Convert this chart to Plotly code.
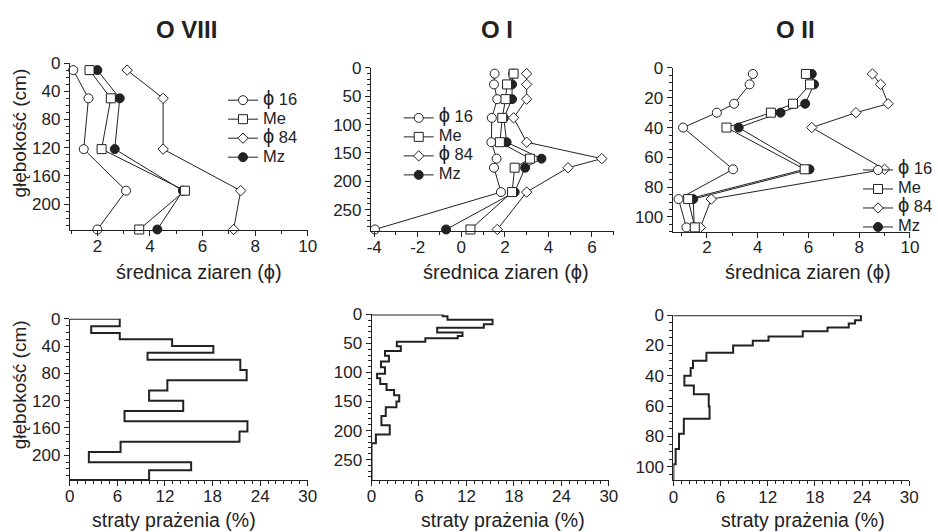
import plotly.graph_objects as go

W, H = 938, 532
FONT = "Liberation Sans, Arial, sans-serif"
INK = "#222222"

# ---------------- grain-size data (depth cm, phi) ----------------
depth_viii = [10, 50, 122, 181, 236]
phi16_viii = [1.08, 1.66, 1.48, 3.09, 2.0]
me_viii = [1.70, 2.51, 2.16, 5.33, 3.59]
phi84_viii = [3.13, 4.5, 4.5, 7.45, 7.18]
mz_viii = [2.0, 2.85, 2.66, 5.25, 4.28]

depth_i = [10, 29, 55, 88, 131, 160, 176, 219, 285]
phi16_i = [1.53, 1.50, 1.65, 1.40, 1.38, 1.62, 1.50, 1.82, -3.97]
me_i = [2.40, 2.10, 2.03, 1.88, 1.77, 3.15, 2.45, 2.33, 0.42]
phi84_i = [3.0, 3.0, 3.0, 2.4, 3.0, 6.45, 4.9, 3.0, 1.65]
mz_i = [2.38, 2.33, 2.33, 1.95, 2.08, 3.68, 2.93, 2.45, -0.70]

depth_ii = [4, 11, 24, 30, 40, 68, 88, 107]
phi16_ii = [3.81, 3.68, 3.07, 2.39, 1.06, 3.03, 0.88, 1.19]
me_ii = [5.90, 6.06, 5.39, 4.52, 2.77, 5.85, 1.26, 1.52]
phi84_ii = [8.52, 8.84, 9.14, 7.87, 6.13, 9.0, 2.17, 1.74]
mz_ii = [6.13, 6.22, 5.87, 4.90, 3.25, 6.04, 1.46, 1.50]

# ---------------- loss on ignition (layer top depth cm, %) ----------------
tops_viii = [0, 11, 21, 30, 40, 50, 60, 75, 90, 105, 120, 135, 150, 165, 180, 195, 210, 222]
loi_viii = [6.3, 2.7, 6.3, 12.9, 18.1, 9.8, 21.5, 22.3, 12.3, 10.0, 14.3, 6.9, 22.4, 21.4, 6.4, 2.4, 15.3, 10.0]
bottom_viii = 236

tops_i = [0, 3, 9, 17, 23, 31, 37, 41, 47, 55, 63, 71, 81, 91, 102, 110, 120, 130, 139, 150, 160, 175, 191, 207, 222]
loi_i = [9.0, 9.6, 15.3, 14.2, 8.3, 11.5, 10.9, 6.8, 3.2, 3.7, 1.7, 2.2, 1.2, 1.7, 0.7, 1.1, 1.9, 2.85, 3.5, 3.15, 1.8, 1.25, 2.3, 0.55, 0.0]
bottom_i = 285

tops_ii = [0, 3.3, 5.5, 8.1, 10.6, 14.1, 16.9, 20.0, 24.8, 30.0, 34.8, 39.9, 46.3, 52.2, 60.3, 68.3, 78.2, 88.3, 98.3]
loi_ii = [23.85, 23.1, 22.3, 19.6, 16.45, 12.1, 10.1, 7.6, 4.2, 2.5, 2.2, 1.4, 2.6, 4.5, 4.6, 1.33, 0.72, 0.29, 0.0]
bottom_ii = 109

titles = ["O VIII", "O I", "O II"]
PHI = "<span style='font-size:20px'>ϕ</span>"
series_names = [PHI + "<span style='font-size:16.5px'> 16</span>",
                "<span style='font-size:16.5px'>Me</span>",
                PHI + "<span style='font-size:16.5px'> 84</span>",
                "<span style='font-size:16.5px'>Mz</span>"]
x_title_top = "średnica ziaren (ϕ)"
x_title_bot = "straty prażenia (%)"
y_title = "głębokość (cm)"

fig = go.Figure()


def dom_x(a, b):
    return [a / W, b / W]


def dom_y(top, bottom):
    return [1 - bottom / H, 1 - top / H]


marker_styles = {
    "phi16": dict(symbol="circle", size=9, color="white", line=dict(color=INK, width=1)),
    "me": dict(symbol="square", size=9, color="white", line=dict(color=INK, width=1)),
    "phi84": dict(symbol="diamond", size=8, color="white", line=dict(color=INK, width=1)),
    "mz": dict(symbol="circle", size=9, color=INK, line=dict(color=INK, width=1)),
}

panels_top = [
    (depth_viii, phi16_viii, me_viii, phi84_viii, mz_viii),
    (depth_i, phi16_i, me_i, phi84_i, mz_i),
    (depth_ii, phi16_ii, me_ii, phi84_ii, mz_ii),
]
legend_ids = ["legend", "legend2", "legend3"]

for k, (d, p16, me, p84, mz) in enumerate(panels_top):
    xa = "x" if k == 0 else f"x{k + 1}"
    ya = "y" if k == 0 else f"y{k + 1}"
    order = [("mz", mz, 3), ("phi16", p16, 0), ("phi84", p84, 2), ("me", me, 1)]
    for key, vals, idx in order:
        fig.add_trace(go.Scatter(
            x=vals, y=d, mode="lines+markers", name=series_names[idx],
            line=dict(color=INK, width=1), marker=marker_styles[key],
            xaxis=xa, yaxis=ya, cliponaxis=False, legend=legend_ids[k],
            legendrank=idx + 1, showlegend=True))

panels_bot = [(tops_viii, loi_viii, bottom_viii), (tops_i, loi_i, bottom_i), (tops_ii, loi_ii, bottom_ii)]
for k, (tops, vals, bot) in enumerate(panels_bot):
    xs = [0] + list(vals) + [0]
    ys = [0] + list(tops) + [bot]
    fig.add_trace(go.Scatter(
        x=xs, y=ys, mode="lines", line=dict(color=INK, width=2, shape="vh"),
        xaxis=f"x{k + 4}", yaxis=f"y{k + 4}", showlegend=False, cliponaxis=False))

# ---------------- axes ----------------
tickfont = dict(family=FONT, size=17, color=INK)


def ax_common(minor_dtick):
    return dict(showline=True, linecolor=INK, linewidth=1, ticks="outside", ticklen=5,
                tickwidth=1, tickcolor=INK, showgrid=False, zeroline=False, tickfont=tickfont,
                minor=dict(ticks="outside", ticklen=3, tickwidth=1, tickcolor=INK, dtick=minor_dtick),
                fixedrange=True)


geo = {
    1: ((66, 308.3), (55, 225), [0.95, 10], [237, 0], [2, 4, 6, 8, 10], [0, 40, 80, 120, 160, 200], 1, 10),
    2: ((372.7, 620), (60, 226), [-4.15, 7], [288, 0], [-4, -2, 0, 2, 4, 6], [0, 50, 100, 150, 200, 250], 1, 10),
    3: ((680, 921.7), (60, 226.7), [0.65, 10], [110, 0], [2, 4, 6, 8, 10], [0, 20, 40, 60, 80, 100], 1, 5),
    4: ((66, 308.3), (315, 479), [0, 30], [236, 0], [0, 6, 12, 18, 24, 30], [0, 40, 80, 120, 160, 200], 1, 10),
    5: ((373.3, 615), (310.7, 479), [0, 30], [285, 0], [0, 6, 12, 18, 24, 30], [0, 50, 100, 150, 200, 250], 1, 10),
    6: ((680.7, 921), (311.5, 479.5), [0, 30], [109, 0], [0, 6, 12, 18, 24, 30], [0, 20, 40, 60, 80, 100], 1, 5),
}

layout_axes = {}
for n, (xd, yd, xr, yr, xt, yt, xm, ym) in geo.items():
    xname = "xaxis" if n == 1 else f"xaxis{n}"
    yname = "yaxis" if n == 1 else f"yaxis{n}"
    xa = ax_common(xm)
    xa.update(domain=dom_x(*xd), range=xr, anchor="y" if n == 1 else f"y{n}",
              tickmode="array", tickvals=xt, ticktext=[str(v) for v in xt],
              ticklabelstandoff=-5 if n <= 3 else -4)
    ya = ax_common(ym)
    ya.update(domain=dom_y(*yd), range=yr, anchor="x" if n == 1 else f"x{n}",
              tickmode="array", tickvals=yt, ticktext=[str(v) for v in yt])
    layout_axes[xname] = xa
    layout_axes[yname] = ya

fig.update_layout(**layout_axes)

legend_common = dict(bgcolor="rgba(0,0,0,0)", borderwidth=0, font=dict(family=FONT, size=11.5, color=INK),
                     tracegroupgap=0, xanchor="left", yanchor="top", traceorder="normal")
fig.update_layout(
    width=W, height=H, margin=dict(l=0, r=0, t=0, b=0),
    paper_bgcolor="white", plot_bgcolor="white",
    font=dict(family=FONT, color=INK),
    legend=dict(legend_common, x=222 / W, y=1 - 78 / H),
    legend2=dict(legend_common, x=401 / W, y=1 - 96 / H),
    legend3=dict(legend_common, x=869 / W, y=1 - 149 / H),
)

# axis titles as annotations placed where the reference shows them
xt_top = [198, 510, 818]
xt_bot = [172, 507, 813]
for xpx in xt_top:
    fig.add_annotation(text=x_title_top, x=xpx / W, y=1 - 268 / H, xref="paper", yref="paper",
                       showarrow=False, xanchor="center", yanchor="middle",
                       font=dict(family=FONT, size=20, color=INK))
for xpx in xt_bot:
    fig.add_annotation(text=x_title_bot, x=xpx / W, y=1 - 519.5 / H, xref="paper", yref="paper",
                       showarrow=False, xanchor="center", yanchor="middle", borderpad=0,
                       font=dict(family=FONT, size=19.5, color=INK))
for ypx in (126, 382):
    fig.add_annotation(text=y_title, x=15 / W, y=1 - ypx / H, xref="paper", yref="paper",
                       showarrow=False, textangle=-90, xanchor="center", yanchor="middle",
                       font=dict(family=FONT, size=19, color=INK))

title_x = [185, 501, 805]
for t, xpx in zip(titles, title_x):
    fig.add_annotation(text=f"<b>{t}</b>", x=xpx / W, y=1 - 21 / H, xref="paper", yref="paper",
                       showarrow=False, xanchor="center", yanchor="middle",
                       font=dict(family=FONT, size=24, color=INK))

fig.write_html("out.html")
